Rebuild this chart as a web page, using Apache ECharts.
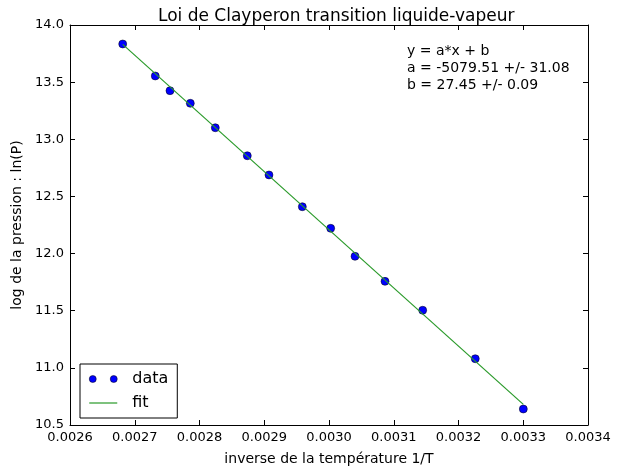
<!DOCTYPE html>
<html>
<head>
<meta charset="utf-8">
<script src="https://cdn.jsdelivr.net/npm/echarts@6/dist/echarts.min.js"></script>
<style>
  html, body { margin: 0; padding: 0; background: #fff; }
  #chart { width: 623px; height: 471px; }
</style>
</head>
<body>
<div id="chart"></div>
<script>
// points
const invT = [0.0026814, 0.0027317, 0.0027544, 0.0027858, 0.0028244, 0.0028738, 0.0029073,
  0.0029588, 0.0030026, 0.0030402, 0.0030865, 0.0031447, 0.0032259, 0.0033001];
const lnP = [13.834, 13.554, 13.425, 13.315, 13.101, 12.856, 12.688,
  12.410, 12.221, 11.976, 11.757, 11.504, 11.080, 10.640];
// fit line end points
const fitX = [0.0026814, 0.0033001];
const fitY = [13.830, 10.680];
const fitText = ["y = a*x + b", "a = -5079.51 +/- 31.08", "b = 27.45 +/- 0.09"];

const font = "DejaVu Sans";
let myChart = echarts.init(document.getElementById("chart"));

const tickStyle = { inside: true, length: 5, lineStyle: { color: "#000" } };

let option = {
  backgroundColor: "#fff",
  animation: false,
  textStyle: { fontFamily: font },
  title: {
    text: "Loi de Clayperon transition liquide-vapeur",
    left: 153,
    top: 3,
    textStyle: { fontFamily: font, fontSize: 17, fontWeight: "normal", color: "#000" },
  },
  grid: { left: 70, right: 35, top: 25, bottom: 46 },
  legend: {
    orient: "vertical",
    left: 80,
    top: 364,
    padding: [7, 9, 7, 9],
    itemGap: 8,
    itemWidth: 28,
    itemHeight: 8,
    borderColor: "#000",
    borderWidth: 1,
    borderRadius: 0,
    textStyle: { fontFamily: font, fontSize: 16, color: "#000", padding: [0, 0, 0, 10] },
    data: [
      {
        name: "data",
        icon: "path://M0,4a4,4 0 1,0 8,0a4,4 0 1,0 -8,0M24,4a4,4 0 1,0 8,0a4,4 0 1,0 -8,0",
        itemStyle: { color: "#0000ff", borderColor: "#000", borderWidth: 0.5 },
      },
      {
        name: "fit",
        icon: "path://M0,0h30v1.3h-30z",
        itemStyle: { color: "#2a9a2a", borderWidth: 0 },
      },
    ],
  },
  graphic: [
    {
      type: "text",
      left: 407,
      top: 43,
      style: {
        text: fitText.join("\n"),
        font: "14px 'DejaVu Sans'",
        lineHeight: 17,
        fill: "#000",
      },
    },
  ],
  xAxis: [
    {
      type: "value",
      min: 0.0026,
      max: 0.0034,
      interval: 0.0001,
      name: "inverse de la température 1/T",
      nameLocation: "middle",
      nameGap: 27,
      nameTextStyle: { fontFamily: font, fontSize: 14, color: "#000" },
      axisLine: { onZero: false, lineStyle: { color: "#000", width: 1 } },
      axisTick: tickStyle,
      splitLine: { show: false },
      axisLabel: {
        color: "#000",
        fontSize: 13,
        margin: 6,
        formatter: (v) => v.toFixed(4),
      },
    },
    {
      type: "value",
      position: "top",
      min: 0.0026,
      max: 0.0034,
      interval: 0.0001,
      axisLine: { onZero: false, lineStyle: { color: "#000", width: 1 } },
      axisTick: tickStyle,
      axisLabel: { show: false },
      splitLine: { show: false },
    },
  ],
  yAxis: [
    {
      type: "value",
      min: 10.5,
      max: 14.0,
      interval: 0.5,
      name: "log de la pression : ln(P)",
      nameLocation: "middle",
      nameGap: 43,
      nameTextStyle: { fontFamily: font, fontSize: 14, color: "#000" },
      axisLine: { show: true, onZero: false, lineStyle: { color: "#000", width: 1 } },
      axisTick: tickStyle,
      splitLine: { show: false },
      axisLabel: {
        color: "#000",
        fontSize: 13,
        margin: 6,
        formatter: (v) => v.toFixed(1),
      },
    },
    {
      type: "value",
      position: "right",
      min: 10.5,
      max: 14.0,
      interval: 0.5,
      axisLine: { show: true, onZero: false, lineStyle: { color: "#000", width: 1 } },
      axisTick: tickStyle,
      axisLabel: { show: false },
      splitLine: { show: false },
    },
  ],
  series: [
    {
      name: "data",
      type: "scatter",
      symbol: "circle",
      symbolSize: 8,
      itemStyle: { color: "#0000ff", borderColor: "#000", borderWidth: 0.5, opacity: 1 },
      data: invT.map((x, i) => [x, lnP[i]]),
      z: 2,
    },
    {
      name: "fit",
      type: "line",
      showSymbol: false,
      lineStyle: { color: "#2a9a2a", width: 1.2 },
      itemStyle: { color: "#2a9a2a" },
      data: fitX.map((x, i) => [x, fitY[i]]),
      z: 3,
    },
  ],
};
myChart.setOption(option);
</script>
</body>
</html>
